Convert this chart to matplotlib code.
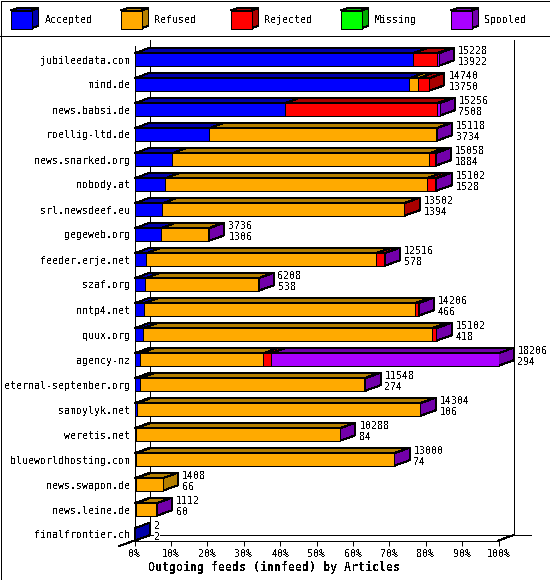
import numpy as np
import matplotlib
matplotlib.use('Agg')
import matplotlib.pyplot as plt
from matplotlib.patches import Polygon, Rectangle

feeds = ['jubileedata.com', 'mind.de', 'news.babsi.de', 'roellig-ltd.de', 'news.snarked.org',
         'nobody.at', 'srl.newsdeef.eu', 'gegeweb.org', 'feeder.erje.net', 'szaf.org',
         'nntp4.net', 'quux.org', 'agency-nz', 'eternal-september.org', 'samoylyk.net',
         'weretis.net', 'blueworldhosting.com', 'news.swapon.de', 'news.leine.de', 'finalfrontier.ch']
accepted = [13922, 13750, 7508, 3734, 1884, 1528, 1394, 1306, 578, 538, 466, 418, 294, 274, 106, 84, 74, 66, 60, 2]
refused = [0, 450, 0, 11354, 12864, 13092, 12068, 2380, 11492, 5640, 13554, 14452, 6156, 11214, 14158, 10174, 12896, 1342, 1032, 0]
rejected = [1186, 540, 7598, 0, 280, 420, 40, 0, 420, 0, 160, 200, 370, 0, 0, 0, 0, 0, 0, 0]
missing = [0] * 20
spooled = [120, 0, 150, 30, 30, 62, 0, 50, 26, 30, 26, 32, 11386, 60, 40, 30, 30, 0, 20, 0]

names = ['Accepted', 'Refused', 'Rejected', 'Missing', 'Spooled']
fronts = ['#0000ff', '#ffaa00', '#ff0000', '#00ff00', '#aa00ff']
darks = ['#0000aa', '#b47f00', '#aa0000', '#00aa00', '#7200aa']
series = np.array([accepted, refused, rejected, missing, spooled], dtype=float)
totals = series.sum(axis=0)
pct = series / totals.max() * 100

plt.rcParams['font.family'] = ['DejaVu Sans Mono']
plt.rcParams['font.size'] = 7.2
plt.rcParams['text.antialiased'] = False
W, H = 550, 580
LW = 0.72  # one pixel
fig = plt.figure(figsize=(W / 100, H / 100), dpi=100)

# frame and legend strip, in pixels
bg = fig.add_axes([0, 0, 1, 1], xlim=(0, W), ylim=(H, 0))
bg.axis('off')
bg.add_patch(Rectangle((0.5, 0.5), W - 1, H - 1, fc='none', ec='k', lw=LW, aa=False))
bg.plot([0, W], [35.5, 35.5], 'k', lw=LW, aa=False)
for n, name in enumerate(names):
    x0 = 10.5 + 110 * n
    bg.add_patch(Polygon([(x0, 10.5), (x0 + 7, 8), (x0 + 28, 8), (x0 + 21, 10.5)], fc=darks[n], ec='k', lw=LW, aa=False))
    bg.add_patch(Polygon([(x0 + 21, 10.5), (x0 + 28, 8), (x0 + 28, 25.5), (x0 + 21, 28.5)], fc=darks[n], ec='k', lw=LW, aa=False))
    bg.add_patch(Rectangle((x0, 10.5), 21, 18, fc=fronts[n], ec='k', lw=LW, aa=False))
    bg.text(x0 + 34, 20, name, va='center', ha='left')

# main plot, front plane of the 3d box
left, right, top, bottom = 134.5, 498.5, 45.5, 540.5
ax = fig.add_axes([left / W, 1 - bottom / H, (right - left) / W, (bottom - top) / H])
ax.set_xlim(0, 100)
ax.set_ylim((bottom - 59.5) / 25, (top - 59.5) / 25)
ax.patch.set_visible(False)
for s in ['top', 'right']:
    ax.spines[s].set_visible(False)
for s in ['left', 'bottom']:
    ax.spines[s].set_linewidth(LW)
    ax.spines[s].set_antialiased(False)
dx, dy = 15.2 / 364 * 100, 5.5 / 25  # depth
ymax, ymin = ax.get_ylim()
back = ymax - dy

# back wall
ax.plot([dx, dx], [-0.78, back], 'k', lw=LW, aa=False, clip_on=False, zorder=1)
ax.plot([100 + dx, 100 + dx], [-0.78, back], 'k', lw=LW, aa=False, clip_on=False, zorder=1)
ax.plot([dx, 109], [back, back], 'k', lw=LW, aa=False, clip_on=False, zorder=1)
ax.plot([100, 100 + dx], [ymax, back], 'k', lw=LW, aa=False, clip_on=False, zorder=1)
ax.plot([-dx, 0], [ymax + dy, ymax], 'k', lw=LW, aa=False, clip_on=False, zorder=1)

h = 0.5
for i in range(len(feeds)):
    y = i
    start = 0
    last = max(k for k in range(5) if series[k][i] > 0)
    for k in range(5):
        w = pct[k][i]
        if series[k][i] == 0:
            continue
        yt = y - h / 2
        ax.add_patch(Polygon([(start, yt), (start + dx, yt - dy), (start + w + dx, yt - dy), (start + w, yt)],
                             fc=darks[k], ec='k', lw=LW, aa=False, clip_on=False, zorder=3))
        ax.barh(y, w, height=h, left=start, color=fronts[k], edgecolor='k', linewidth=LW, aa=False, zorder=4)
        start += w
        if k == last:
            ax.add_patch(Polygon([(start, yt), (start + dx, yt - dy), (start + dx, yt + h - dy), (start, yt + h)],
                                 fc=darks[k], ec='k', lw=LW, aa=False, clip_on=False, zorder=3))
    bb = dict(fc='w', ec='none', pad=0)
    ax.annotate(f'{totals[i]:.0f}', (start + dx, y), xytext=(2.9, 5.9), textcoords='offset points',
                va='center', ha='left', bbox=bb, zorder=2, annotation_clip=False)
    ax.annotate(f'{accepted[i]}', (start + dx, y), xytext=(2.9, -1.7), textcoords='offset points',
                va='center', ha='left', bbox=bb, zorder=2, annotation_clip=False)

ax.set_yticks(range(len(feeds)), feeds)
ax.tick_params(axis='y', length=0, pad=3)
ax.set_xticks(range(0, 101, 10), [f'{v}%' for v in range(0, 101, 10)])
ax.tick_params(axis='x', length=3.6, width=LW, pad=2.2)

fig.text(274 / W, 1 - 567 / H, 'Outgoing feeds (innfeed) by Articles', fontsize=8.4, fontweight='bold', ha='center', va='center')
fig.savefig('out.png', dpi=100)
